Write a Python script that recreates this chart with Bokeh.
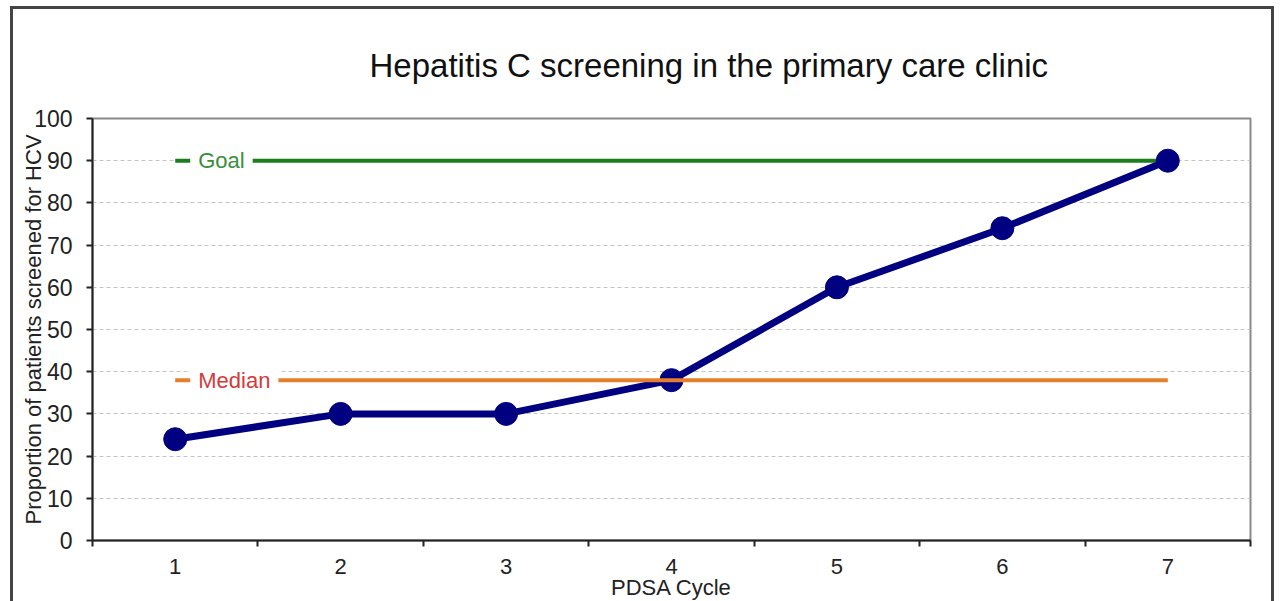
from bokeh.plotting import figure
from bokeh.models import Range1d, FixedTicker, Label, Title
from bokeh.embed import file_html
from bokeh.resources import INLINE

# ---- data ----
cycles = [1, 2, 3, 4, 5, 6, 7]
cycle_labels = ["1", "2", "3", "4", "5", "6", "7"]
screened = [24, 30, 30, 38, 60, 74, 90]
goal = 90
median = 38
y_ticks = [0, 10, 20, 30, 40, 50, 60, 70, 80, 90, 100]
title_text = "Hepatitis C screening in the primary care clinic"

FONT = "Liberation Sans"

p = figure(
    frame_width=1158, frame_height=422,
    min_border_left=79, min_border_right=21, min_border_top=109, min_border_bottom=60,
    x_range=Range1d(0.5, 7.5), y_range=Range1d(0, 100),
    output_backend="svg", toolbar_location=None,
)
p.styles = {
    "margin-left": "10px", "margin-top": "6px",
    "border-top": "3px solid #444", "border-left": "3px solid #444",
    "border-right": "3px solid #444",
}
p.background_fill_color = "white"
p.border_fill_color = "white"
p.outline_line_color = "#8a8a8a"
p.outline_line_width = 2

# title
t = Title(text=title_text, align="left",
          text_font=FONT, text_font_size="33px", text_font_style="normal",
          text_color="#111111", offset=277, standoff=70)
p.add_layout(t, "above")

# grid
p.xgrid.visible = False
p.ygrid.grid_line_color = "#c4c4c4"
p.ygrid.grid_line_dash = "4 3"
p.ygrid.grid_line_width = 1

# y axis
p.yaxis.ticker = FixedTicker(ticks=y_ticks)
p.yaxis.major_tick_out = 6
p.yaxis.major_tick_in = 0
p.yaxis.minor_tick_out = 0
p.yaxis.minor_tick_in = 0
p.yaxis.axis_line_width = 2
p.yaxis.axis_line_color = "#222222"
p.yaxis.major_tick_line_width = 2
p.yaxis.major_tick_line_color = "#222222"
p.yaxis.major_label_standoff = 14
p.yaxis.major_label_text_font = FONT
p.yaxis.major_label_text_font_size = "23px"
p.yaxis.major_label_text_color = "#222222"
p.yaxis.axis_label = "Proportion of patients screened for HCV"
p.yaxis.axis_label_text_font = FONT
p.yaxis.axis_label_text_font_size = "22px"
p.yaxis.axis_label_text_font_style = "normal"
p.yaxis.axis_label_text_color = "#222222"
p.yaxis.axis_label_standoff = -15

# x axis
minor = [c - 0.5 for c in cycles] + [cycles[-1] + 0.5]
p.xaxis.ticker = FixedTicker(ticks=cycles, minor_ticks=minor)
p.xaxis.major_label_overrides = {c: l for c, l in zip(cycles, cycle_labels)}
p.xaxis.major_tick_out = 0
p.xaxis.major_tick_in = 0
p.xaxis.minor_tick_out = 6
p.xaxis.minor_tick_in = 0
p.xaxis.minor_tick_line_width = 2
p.xaxis.minor_tick_line_color = "#222222"
p.xaxis.axis_line_width = 2
p.xaxis.axis_line_color = "#222222"
p.xaxis.major_label_standoff = 12
p.xaxis.major_label_text_font = FONT
p.xaxis.major_label_text_font_size = "22px"
p.xaxis.major_label_text_color = "#222222"
p.xaxis.axis_label = "PDSA Cycle"
p.xaxis.axis_label_text_font = FONT
p.xaxis.axis_label_text_font_size = "22px"
p.xaxis.axis_label_text_font_style = "normal"
p.xaxis.axis_label_text_color = "#222222"
p.xaxis.axis_label_standoff = -2

# goal line (under the series)
p.line([cycles[0], cycles[-1]], [goal, goal], line_color="#1b7d1b", line_width=4)

# series
p.line(cycles, screened, line_color="#000080", line_width=7)
p.scatter(cycles, screened, marker="circle", size=23, fill_color="#000080",
          line_color="#000080")

# median line (over the series)
p.line([cycles[0], cycles[-1]], [median, median], line_color="#e57f2a", line_width=4)

# line labels
for txt, yv, col in [("Goal", goal, "#3a8f3a"), ("Median", median, "#d43a3a")]:
    p.add_layout(Label(x=cycles[0], y=yv, x_offset=15, text=txt, text_align="left",
                       text_baseline="middle", text_color=col, text_font=FONT,
                       text_font_size="22px", background_fill_color="white",
                       padding=8))

open("out.html", "w").write(file_html(p, INLINE))
